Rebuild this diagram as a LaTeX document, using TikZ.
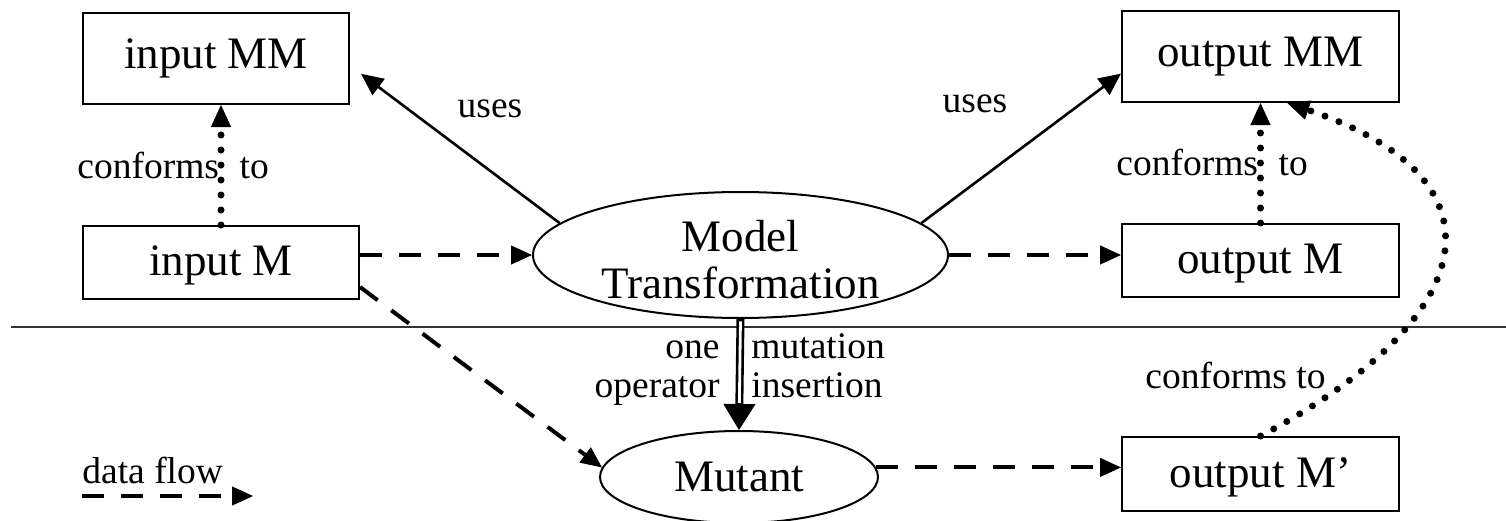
\documentclass[tikz,border=0pt]{standalone}
\usepackage{fontspec}
\setmainfont{Liberation Serif}
\usetikzlibrary{arrows.meta,shapes.geometric,calc}
\begin{document}
\begin{tikzpicture}[x=0.5pt,y=-0.5pt,
  box/.style={draw,line width=1pt,inner sep=0pt,font=\fontsize{22.5}{26}\selectfont},
  lowtext/.style={text height=15.5pt,text depth=2.5pt},
  ell/.style={draw,ellipse,line width=1pt,inner sep=0pt,font=\fontsize{22.5}{23.5}\selectfont,align=center},
  lbl/.style={font=\fontsize{18.75}{22}\selectfont,inner sep=0pt},
  usesarr/.style={line width=1.3pt,-{Triangle[length=11pt,width=10pt]}},
  flow/.style={line width=2pt,dash pattern=on 11pt off 8.5pt,-{Triangle[length=10.5pt,width=9.5pt,line width=0.5pt]}},
  conf/.style={line width=3.5pt,line cap=round,dash pattern=on 0pt off 7.5pt,-{Triangle[length=11pt,width=10pt,line width=0.5pt]}},
  dblouter/.style={line width=4pt,-{Triangle[length=13pt,width=16pt,line width=0.5pt]}},
  dblinner/.style={line width=1.4pt,white,shorten <=1.2pt,shorten >=13.5pt},
]
\useasboundingbox (0,0) rectangle (1506,520);
% separator line
\coordinate (hl) at (11,327);
\coordinate (hr) at (1506,327);
\draw[line width=0.8pt,black!80] (hl) -- (hr);

% nodes
\node[box,minimum width=133pt,minimum height=45.5pt] (inMM) at (216,58.5) {input MM};
\node[box,lowtext,minimum width=138pt,minimum height=36.5pt] (inM) at (221,262.5) {input M};
\node[box,minimum width=138.5pt,minimum height=45.5pt] (outMM) at (1260.5,56.5) {output MM};
\node[box,lowtext,minimum width=138.5pt,minimum height=36.5pt] (outM) at (1260.5,260.5) {output M};
\node[box,lowtext,minimum width=138.5pt,minimum height=37pt] (outMp) at (1260.5,474) {output M’};
\node[ell,minimum width=207.5pt,minimum height=63pt] (mt) at (740.5,255) {\rule{0pt}{20.5pt}Model\\Transformation};
\node[ell,minimum width=139pt,minimum height=46pt] (mut) at (739,477) {Mutant};

% labels
\node[lbl,anchor=base] (u1) at (490,117) {uses};
\node[lbl,anchor=base] (u2) at (975,112) {uses};
\node[lbl,anchor=base west] (c1) at (77,178) {conforms\hspace{0.3em} to};
\node[lbl,anchor=base west] (c2) at (1116,175) {conforms\hspace{0.3em} to};
\node[lbl,anchor=base west] (c3) at (1145,388) {conforms to};
\node[lbl,anchor=base east] (l1) at (720,358) {one};
\node[lbl,anchor=base east] (l2) at (720,397) {operator};
\node[lbl,anchor=base west] (l3) at (751,358) {mutation};
\node[lbl,anchor=base west] (l4) at (751,397) {insertion};
\node[lbl,anchor=base west] (lg) at (82,483) {data flow};

% connectors
\draw[usesarr,shorten >=6.9pt] (mt.170) -- (inMM.-3);
\draw[usesarr] (mt.10) -- (outMM.187);
\draw[flow] (mt.west -| inM.east) -- (mt.west);
\draw[flow] (mt.east) -- (mt.east -| outM.west);
\draw[flow] (inM.-10) -- (mut.176);
\draw[flow] (mut.4) -- (mut.4 -| outMp.west);
\draw[conf] (inM.north) -- (inM.north |- inMM.south);
\draw[conf] (outM.north) -- (outMM.south);
\draw[conf] (outMp.north) .. controls (1480,320) and (1515,180) .. (outMM.-60);
\draw[dblouter] (mt.south) -- (mut.north);
\draw[dblinner] (mt.south) -- (mut.north);

% legend
\coordinate (lgA) at (82,496);
\coordinate (lgB) at (253,496);
\draw[flow] (lgA) -- (lgB);
\end{tikzpicture}
\end{document}
